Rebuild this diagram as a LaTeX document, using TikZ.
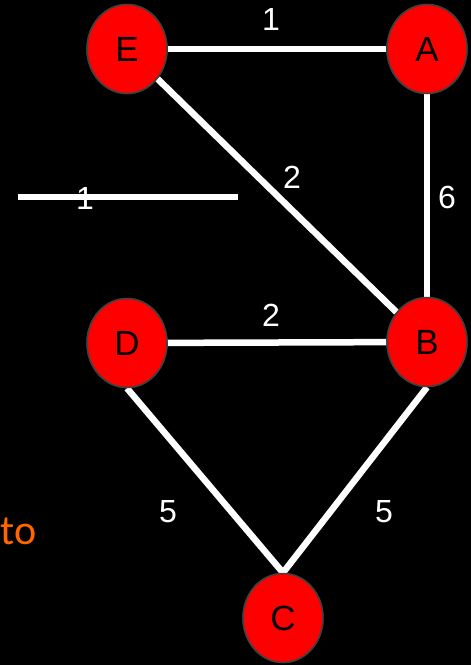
\documentclass[tikz,border=0pt]{standalone}
\usepackage{fontspec}
\setmainfont{Liberation Sans}
\newfontfamily\calfont{Carlito}
\usetikzlibrary{shapes.geometric}
\definecolor{nodered}{RGB}{255,0,0}
\definecolor{rimgray}{RGB}{64,64,64}
\definecolor{toorange}{RGB}{255,102,0}
\begin{document}
\begin{tikzpicture}[x=1pt,y=-1pt,
  vertex/.style={ellipse,draw=rimgray,line width=1.5pt,fill=nodered,minimum width=80pt,minimum height=89pt,inner sep=0pt,font=\fontsize{35}{35}\selectfont,text=black},
  edge/.style={draw=white,line width=6.5pt},
  wlabel/.style={text=white,font=\fontsize{32}{32}\selectfont,inner sep=0pt}]
\fill[black] (0,0) rectangle (471,665);
\useasboundingbox (0,0) rectangle (471,665);
% stray segment
\coordinate (s1) at (18,197);
\coordinate (s2) at (238,197);
\draw[edge] (s1) -- (s2);
\node[wlabel] (l0) at (85,198) {1};
% nodes
\node[vertex] (E) at (127,49) {E};
\node[vertex] (A) at (427,49) {A};
\node[vertex] (D) at (127,343) {D};
\node[vertex] (B) at (427,342) {B};
\node[vertex] (C) at (283,618) {C};
% edges
\draw[edge] (E) -- (A);
\draw[edge] (A) -- (B);
\draw[edge] (E) -- (B);
\draw[edge] (D) -- (B);
\draw[edge] (D.south) -- (C.north);
\draw[edge] (B.south) -- (C.north);
% redraw nodes on top
\node[vertex] at (E) {E};
\node[vertex] at (A) {A};
\node[vertex] at (D) {D};
\node[vertex] at (B) {B};
\node[vertex] at (C) {C};
% labels
\node[wlabel] (l1) at (271,19) {1};
\node[wlabel] (l2) at (447,197) {6};
\node[wlabel] (l3) at (292,177) {2};
\node[wlabel] (l4) at (271,315) {2};
\node[wlabel] (l5) at (168,512) {5};
\node[wlabel] (l6) at (384,512) {5};
\node[text=toorange,font=\calfont\fontsize{42}{42}\selectfont,inner sep=0pt,anchor=base west] (to) at (0.5,544) {to};
\end{tikzpicture}
\end{document}
